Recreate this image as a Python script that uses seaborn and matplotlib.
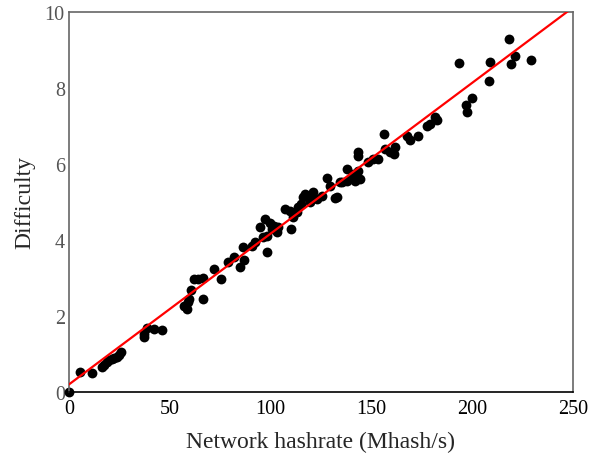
import matplotlib
matplotlib.use("Agg")
import matplotlib.pyplot as plt
import seaborn as sns
import pandas as pd
from matplotlib.ticker import MultipleLocator

hashrate = [0, 5.3, 11.2, 16.2, 17.5, 18.7, 20, 21.2, 22.5, 23.7, 25, 25.8,
            37.2, 37.2, 38.8, 42.3, 46.3, 57, 58.4, 59.2, 59.5, 60.4, 62, 64.1,
            66.6, 66.3, 72.1, 75.4, 79, 81.8, 84.8, 86.8, 86.5, 90.6, 92.3, 94.7,
            96.1, 97.2, 98, 98.4, 99.7, 100.5, 101.7, 103, 103.8, 107.1, 109.6,
            109.9, 111, 112.9, 113.7, 115, 116.2, 117, 119.5, 120.4, 121.2, 122.9,
            125.3, 128.1, 129.5, 132, 132.8, 134.4, 135.3, 137.7, 138, 140.2, 141,
            141.9, 143.5, 143.5, 143.5, 144.3, 148.5, 150.9, 153.4, 156.2, 156.7,
            159.2, 161.4, 161.7, 167.5, 169.1, 173.3, 177.7, 179, 181.5, 182.3,
            193.6, 196.9, 197.2, 199.7, 208.5, 208.8, 218.3, 219.2, 221.2, 229.2]
difficulty = [0, 0.53, 0.49, 0.65, 0.72, 0.79, 0.83, 0.87, 0.9, 0.93, 0.98, 1.04,
              1.44, 1.53, 1.68, 1.66, 1.64, 2.27, 2.18, 2.36, 2.45, 2.68, 2.97, 2.97,
              3.0, 2.45, 3.24, 2.97, 3.41, 3.54, 3.3, 3.47, 3.82, 3.85, 3.94, 4.33,
              4.07, 4.55, 3.68, 4.11, 4.46, 4.3, 4.38, 4.2, 4.33, 4.82, 4.77,
              4.29, 4.6, 4.73, 4.86, 4.95, 5.12, 5.21, 4.99, 5.17, 5.26, 5.08,
              5.17, 5.62, 5.43, 5.1, 5.12, 5.52, 5.52, 5.56, 5.88, 5.69, 5.74,
              5.56, 5.82, 6.22, 6.31, 5.6, 6.04, 6.13, 6.13, 6.79, 6.39,
              6.31, 6.26, 6.44, 6.75, 6.62, 6.75, 7.01, 7.05, 7.23, 7.17,
              8.65, 7.55, 7.38, 7.75, 8.18, 8.69, 9.29, 8.62, 8.83, 8.74]

fit_x = [0, 250]
fit_y = [0.2, 10.12]

x_ticks = [0, 50, 100, 150, 200, 250]
y_ticks = [0, 2, 4, 6, 8, 10]

sns.set_style("white")
plt.rcParams['font.family'] = ['Liberation Serif', 'DejaVu Serif']

fig = plt.figure(figsize=(6.01, 4.56), dpi=100)
ax = fig.add_axes([69/601, 63/456, 504/601, 380/456])

df = pd.DataFrame({"x": hashrate, "y": difficulty})
sns.scatterplot(data=df, x="x", y="y", ax=ax, color="black", s=50,
                edgecolor="black", linewidth=0, zorder=2, clip_on=False)
fit = pd.DataFrame({"x": fit_x, "y": fit_y})
sns.lineplot(data=fit, x="x", y="y", ax=ax, color="#ff0000", linewidth=1.6, zorder=3)

ax.set_xlim(0, 250)
ax.set_ylim(0, 10)
ax.set_xticks(x_ticks)
ax.set_yticks(y_ticks)
ax.yaxis.set_minor_locator(MultipleLocator(1))
ax.set_xticklabels([str(v) for v in x_ticks], fontsize=14.5, color="black")
ax.set_yticklabels([str(v) for v in y_ticks], fontsize=14.5, color="#555555")
ax.tick_params(axis="x", direction="in", length=5, width=1, color="black", pad=5)
ax.tick_params(axis="y", which="both", direction="in", length=5, width=1,
               color="#555555", pad=3)
ax.set_xlabel("Network hashrate (Mhash/s)", fontsize=17, labelpad=9)
ax.set_ylabel("Difficulty", fontsize=17)
ax.yaxis.set_label_coords(-0.066, 0.5)

for side in ["top", "right", "left"]:
    ax.spines[side].set_color("#666666")
    ax.spines[side].set_linewidth(1.2)
ax.spines["bottom"].set_color("black")
ax.spines["bottom"].set_linewidth(1.2)

fig.savefig("out.png", dpi=100)
